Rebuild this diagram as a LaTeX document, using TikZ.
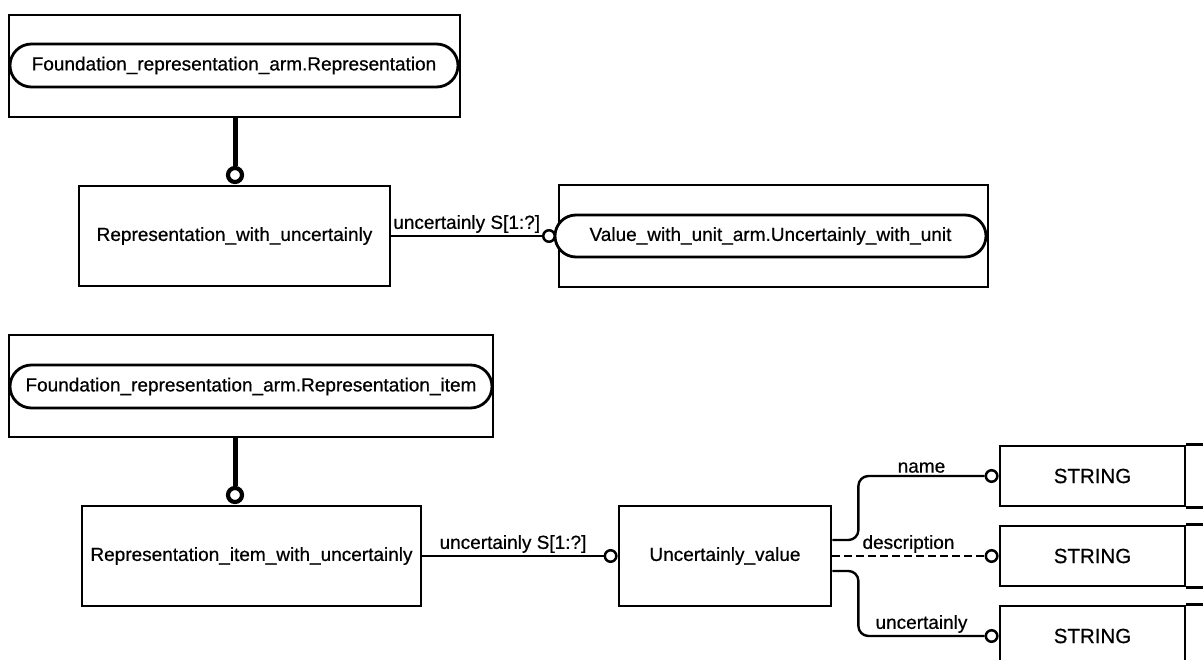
\documentclass[tikz,border=0pt]{standalone}
\usepackage{fontspec}
\setmainfont{Liberation Sans}[FakeBold=0.6]
\usetikzlibrary{shapes.misc}

\begin{document}
\begin{tikzpicture}[x=1pt,y=-1pt,
                    font=\fontsize{19}{22}\selectfont,
                    entity/.style={rectangle,draw,line width=2.8pt,inner sep=0pt},
                    ref pill/.style={rounded rectangle,draw,line width=2.8pt,inner sep=0pt,fill=white},
                    ring/.style={circle,draw,fill=white,inner sep=0pt,minimum size=11.5pt,line width=2.5pt},
                    super ring/.style={circle,draw,fill=white,inner sep=0pt,minimum size=14pt,line width=4.2pt},
                    link/.style={line width=2.4pt},
                    super link/.style={line width=5pt},
                    tag/.style={inner sep=2pt}]
  \useasboundingbox (0,0) rectangle (1203,660);
  \clip (0,0) rectangle (1203,660);

  % upper part
  \node[entity,minimum width=451pt,minimum height=102pt] (rep) at (234.5,66) {};
  \node[ref pill,minimum width=448pt,minimum height=43pt] (reppill) at (234,65.5)
       {Foundation\_representation\_arm.Representation};
  \node[entity,minimum width=311pt,minimum height=100pt] (rwu) at (234.5,236)
       {Representation\_with\_uncertainly};
  \node[entity,minimum width=429pt,minimum height=102pt] (vwu) at (773.5,236) {};
  \node[ref pill,minimum width=431pt,minimum height=42pt] (vwupill) at (770.5,236)
       {Value\_with\_unit\_arm.Uncertainly\_with\_unit};
  \node[super ring] (c1) at (235,175) {};
  \node[ring] (c2) at (549,236) {};
  \draw[super link] (c1) -- (c1 |- rep.south);
  \draw[link] (rwu) -- (c2) node[tag,above,pos=0.5] {uncertainly S[1:?]};

  % lower part
  \node[entity,minimum width=484pt,minimum height=102pt] (repi) at (251,386) {};
  \node[ref pill,minimum width=482pt,minimum height=43pt] (repipill) at (251,386.5)
       {Foundation\_representation\_arm.Representation\_item};
  \node[entity,minimum width=339pt,minimum height=100pt] (riwu) at (251.5,556)
       {Representation\_item\_with\_uncertainly};
  \node[entity,minimum width=212pt,minimum height=100pt] (uv) at (725,556)
       {Uncertainly\_value};
  \node[super ring] (c3) at (235,495) {};
  \node[ring,anchor=east] (c4) at (uv.west) {};
  \draw[super link] (c3) -- (c3 |- repi.south);
  \draw[link] (riwu) -- (c4) node[tag,above,pos=0.5] {uncertainly S[1:?]};

  % STRING boxes
  \foreach \name/\y in {s1/476,s2/556,s3/636}{
    \node[entity,minimum width=185pt,minimum height=60pt,font=\fontsize{20.5}{24}\selectfont]
         (\name) at (1092.5,\y) {STRING};
    \draw[line width=2.8pt] (\name.north east) -- ++(30,0);
    \draw[line width=2.8pt] (\name.south east) -- ++(30,0);
    \node[ring,anchor=east] (\name c) at (\name.west) {};
  }
  \draw[link,rounded corners=10pt] ([yshift=16pt]uv.east) -- ++(26,0) |- (s1c.west)
       node[tag,above,pos=0.75] {name};
  \draw[link,dashed,dash pattern=on 8pt off 4pt] (uv.east) -- (s2c.west)
       node[tag,above,pos=0.5] {description};
  \draw[link,rounded corners=10pt] ([yshift=-15pt]uv.east) -- ++(26,0) |- (s3c.west)
       node[tag,above,pos=0.75] {uncertainly};
\end{tikzpicture}
\end{document}
